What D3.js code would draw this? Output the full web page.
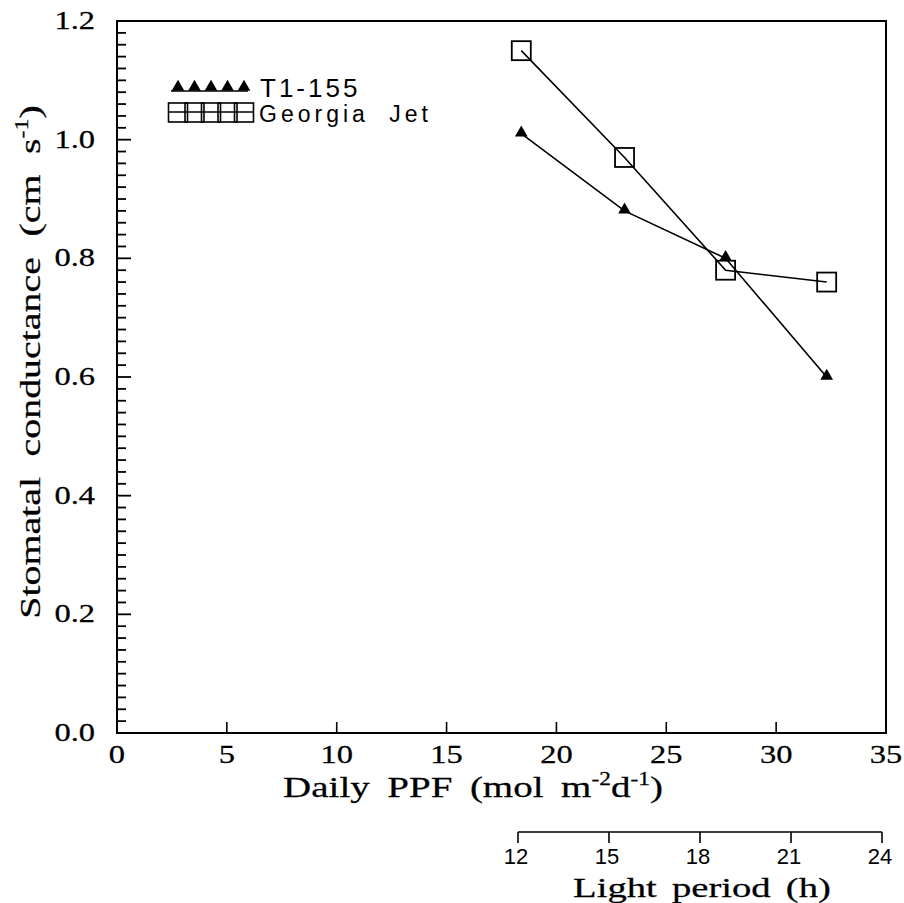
<!DOCTYPE html>
<html>
<head>
<meta charset="utf-8">
<script src="https://cdn.jsdelivr.net/npm/d3@7"></script>
<style>
  body { margin: 0; background: #fff; }
  .serif { font-family: "Liberation Serif", "DejaVu Serif", serif; }
  .plot { font-family: "Liberation Sans", "DejaVu Sans", sans-serif; }
</style>
</head>
<body>
<div id="chart"></div>
<script>
var ppf = [18.4, 23.1, 27.7, 32.3];
var t1155 = [1.01, 0.88, 0.80, 0.60];
var georgiaJet = [1.15, 0.97, 0.78, 0.76];
var seriesNames = ["T1-155", "Georgia Jet"];
var xTicks = [0, 5, 10, 15, 20, 25, 30, 35];
var yTicks = [0, 0.2, 0.4, 0.6, 0.8, 1.0, 1.2];
var hourTicks = [12, 15, 18, 21, 24];

var W = 904, H = 903;
var svg = d3.select("#chart").append("svg")
  .attr("width", W).attr("height", H);

var x = d3.scaleLinear().domain([0, 35]).range([117, 886]);
var y = d3.scaleLinear().domain([0, 1.2]).range([733, 21]);
var hx = d3.scaleLinear().domain([12, 24]).range([518, 882]);

// serif text stretched sideways, like the wide plotter typeface
function wide(g, px, py, size, sx) {
  return g.append("text").attr("class", "serif")
    .attr("transform", "translate(" + px + "," + py + ") scale(" + sx + ",1)")
    .attr("font-size", size)
    .attr("stroke", "#000").attr("stroke-width", 0.25);
}

// frame
svg.append("rect")
  .attr("x", x(0)).attr("y", y(1.2))
  .attr("width", x(35) - x(0)).attr("height", y(0) - y(1.2))
  .attr("fill", "none").attr("stroke", "#000").attr("stroke-width", 2);

// y minor + major ticks (inward)
var yMinor = d3.range(0, 1.2001, 0.02);
svg.append("g").selectAll("line").data(yMinor).enter().append("line")
  .attr("x1", x(0))
  .attr("x2", function(d) { return x(0) + (Math.abs(d * 5 - Math.round(d * 5)) < 1e-6 ? 14 : 9); })
  .attr("y1", function(d) { return y(d); })
  .attr("y2", function(d) { return y(d); })
  .attr("stroke", "#000").attr("stroke-width", 1.8);

var yl = svg.append("g");
yTicks.forEach(function(d) {
  wide(yl, 95, y(d) + 8, 25, 1.3).attr("text-anchor", "end")
    .text(d3.format(".1f")(d));
});

// x ticks (inward)
svg.append("g").selectAll("line").data(xTicks.slice(1, -1)).enter().append("line")
  .attr("x1", function(d) { return x(d); }).attr("x2", function(d) { return x(d); })
  .attr("y1", y(0)).attr("y2", y(0) - 11)
  .attr("stroke", "#000").attr("stroke-width", 1.6);

var xl = svg.append("g");
xTicks.forEach(function(d) {
  wide(xl, x(d), 763, 25, 1.3).attr("text-anchor", "middle").text(d);
});

// axis titles
var xt = wide(svg, 473, 797, 30, 1.3).attr("text-anchor", "middle").attr("word-spacing", 6);
xt.append("tspan").text("Daily PPF (mol m");
xt.append("tspan").attr("dy", -12).attr("font-size", 18).text("-2");
xt.append("tspan").attr("dy", 12).text("d");
xt.append("tspan").attr("dy", -12).attr("font-size", 18).text("-1");
xt.append("tspan").attr("dy", 12).text(")");

var yt = svg.append("text").attr("class", "serif")
  .attr("transform", "translate(40,362) rotate(-90) scale(1.33,1)")
  .attr("text-anchor", "middle").attr("font-size", 30).attr("word-spacing", 8)
  .attr("stroke", "#000").attr("stroke-width", 0.25);
yt.append("tspan").text("Stomatal conductance (cm s");
yt.append("tspan").attr("dy", -12).attr("font-size", 18).text("-1");
yt.append("tspan").attr("dy", 12).text(")");

// secondary axis: light period
var hy = 832;
svg.append("line").attr("x1", hx(12)).attr("x2", hx(24)).attr("y1", hy).attr("y2", hy)
  .attr("stroke", "#000").attr("stroke-width", 1.6);
svg.append("g").selectAll("line").data(hourTicks).enter().append("line")
  .attr("x1", function(d) { return hx(d); }).attr("x2", function(d) { return hx(d); })
  .attr("y1", hy).attr("y2", hy + 11)
  .attr("stroke", "#000").attr("stroke-width", 1.6);
svg.append("g").attr("class", "plot").selectAll("text").data(hourTicks).enter().append("text")
  .attr("x", function(d) { return hx(d) - 2; }).attr("y", 864)
  .attr("text-anchor", "middle").attr("font-size", 22)
  .text(function(d) { return d; });
wide(svg, 702, 897, 28, 1.38).attr("text-anchor", "middle").attr("word-spacing", 4)
  .text("Light period (h)");

// data
var line = d3.line().x(function(d) { return x(d[0]); }).y(function(d) { return y(d[1]); });
var tri = d3.symbol().type(d3.symbolTriangle).size(70);
var seriesT = ppf.map(function(v, i) { return [v, t1155[i]]; });
var seriesG = ppf.map(function(v, i) { return [v, georgiaJet[i]]; });

svg.append("path").datum(seriesG).attr("d", line)
  .attr("fill", "none").attr("stroke", "#000").attr("stroke-width", 1.6);
svg.append("path").datum(seriesT).attr("d", line)
  .attr("fill", "none").attr("stroke", "#000").attr("stroke-width", 1.6);

svg.append("g").selectAll("rect").data(seriesG).enter().append("rect")
  .attr("x", function(d) { return x(d[0]) - 9.5; })
  .attr("y", function(d) { return y(d[1]) - 9.5; })
  .attr("width", 19).attr("height", 19)
  .attr("fill", "none").attr("stroke", "#000").attr("stroke-width", 1.8);

svg.append("g").selectAll("path").data(seriesT).enter().append("path")
  .attr("d", tri)
  .attr("transform", function(d) { return "translate(" + x(d[0]) + "," + (y(d[1]) - 1) + ")"; })
  .attr("fill", "#000");

// legend
var lg = svg.append("g");
var legX = d3.range(5).map(function(i) { return 178 + i * 16.5; });
lg.append("line").attr("x1", 171).attr("x2", 248).attr("y1", 91).attr("y2", 91)
  .attr("stroke", "#000").attr("stroke-width", 1.6);
lg.selectAll("path.lt").data(legX).enter().append("path").attr("class", "lt")
  .attr("d", tri)
  .attr("transform", function(d) { return "translate(" + d + ",87)"; })
  .attr("fill", "#000");
lg.append("text").attr("class", "plot").attr("x", 260).attr("y", 97)
  .attr("font-size", 26).attr("letter-spacing", 3).text(seriesNames[0]);

var sqX = d3.range(5).map(function(i) { return 178 + i * 16.5; });
lg.append("line").attr("x1", 168).attr("x2", 254).attr("y1", 112).attr("y2", 112)
  .attr("stroke", "#000").attr("stroke-width", 1.6);
lg.selectAll("rect.ls").data(sqX).enter().append("rect").attr("class", "ls")
  .attr("x", function(d) { return d - 9.5; }).attr("y", 103)
  .attr("width", 19).attr("height", 19)
  .attr("fill", "none").attr("stroke", "#000").attr("stroke-width", 1.6);
lg.append("text").attr("class", "plot").attr("x", 259).attr("y", 122)
  .attr("font-size", 23).attr("letter-spacing", 4).attr("word-spacing", 10).text(seriesNames[1]);
</script>
</body>
</html>
